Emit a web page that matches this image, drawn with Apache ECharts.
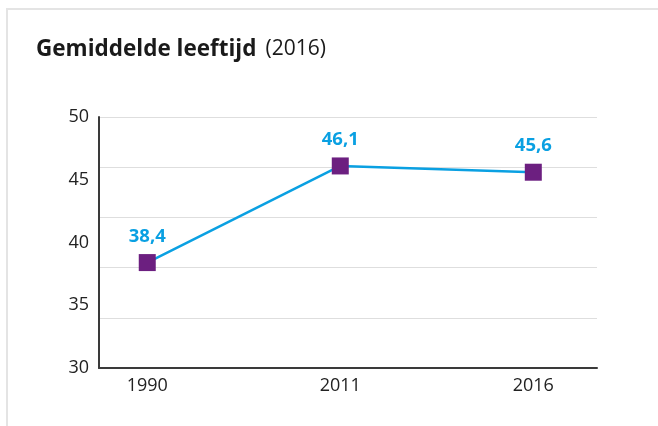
<!DOCTYPE html>
<html>
<head>
<meta charset="utf-8">
<script src="https://cdn.jsdelivr.net/npm/echarts@6/dist/echarts.min.js"></script>
<style>
html,body{margin:0;padding:0;background:#fff;}
#chart{position:absolute;left:0;top:0;width:658px;height:426px;}
#frame{position:absolute;left:6px;top:8px;width:700px;height:500px;border:2px solid #e4e4e4;box-sizing:border-box;pointer-events:none;}
</style>
</head>
<body>
<div id="frame"></div>
<div id="chart"></div>
<script>
const categories = ['1990', '2011', '2016'];
const values = [38.4, 46.1, 45.6];
const yTicks = [30, 35, 40, 45, 50];

const font = '"Open Sans", "Noto Sans", sans-serif';
const chart = echarts.init(document.getElementById('chart'), null, {renderer: 'canvas'});
chart.setOption({
  animation: false,
  title: {
    text: '{b|Gemiddelde leeftijd}{n|(2016)}',
    left: 31, top: 33,
    textStyle: {
      rich: {
        b: {fontFamily: font, fontWeight: 'bold', fontSize: 22.5, color: '#1a1a1a'},
        n: {fontFamily: font, fontWeight: 'normal', fontSize: 21, color: '#1a1a1a', padding: [0, 0, 0, 9]}
      }
    }
  },
  grid: {left: 99, right: 61, top: 117, bottom: 58},
  xAxis: {
    type: 'value', min: -0.25, max: 2.33,
    axisLine: {show: true, onZero: false, lineStyle: {color: '#3a3a3a', width: 2}},
    axisTick: {show: false},
    splitLine: {show: false},
    axisLabel: {
      customValues: [0, 1, 2],
      formatter: v => categories[Math.round(v)],
      fontFamily: font, fontSize: 18, color: '#222', margin: 9
    }
  },
  yAxis: [{
    type: 'value', min: 30, max: 50, interval: 5,
    axisLine: {show: true, onZero: false, lineStyle: {color: '#3a3a3a', width: 2}},
    axisTick: {show: false},
    splitLine: {show: false},
    axisLabel: {fontFamily: font, fontSize: 18, color: '#222', margin: 10,
      formatter: v => yTicks.includes(v) ? String(v) : ''}
  }, {
    type: 'value', min: 30, max: 50, interval: 4, position: 'left',
    axisLine: {show: false, onZero: false}, axisTick: {show: false}, axisLabel: {show: false},
    splitLine: {show: true, lineStyle: {color: '#dedede', width: 1}}
  }],
  series: [{
    type: 'line',
    data: values.map((v, i) => [i, v]),
    lineStyle: {color: '#0aa0e2', width: 2.5},
    itemStyle: {color: '#6c1f80'},
    symbol: 'rect', symbolSize: 17,
    label: {
      show: true, position: 'top', distance: 8,
      formatter: p => String(p.value[1]).replace('.', ','),
      fontFamily: font, fontWeight: 'bold', fontSize: 18.5, color: '#0aa0e2'
    },
    z: 3
  }]
});
</script>
</body>
</html>
